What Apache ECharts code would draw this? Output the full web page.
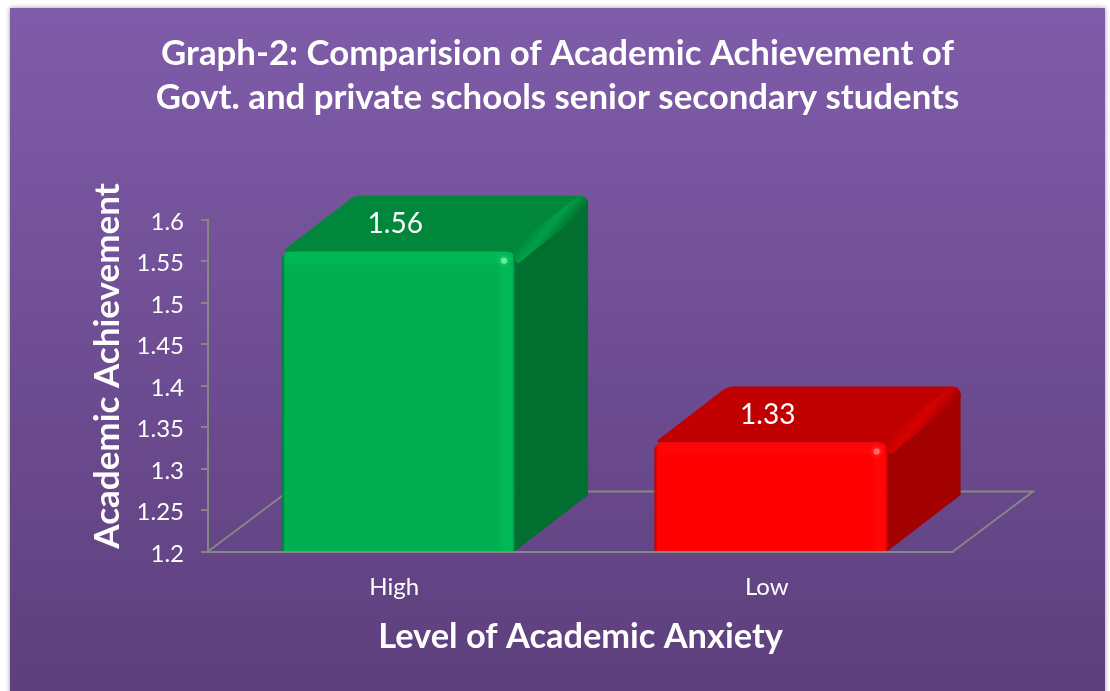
<!DOCTYPE html>
<html><head><meta charset="utf-8">
<style>html,body{margin:0;padding:0;background:#fff}#c{width:1110px;height:691px}</style>
<script src="https://cdn.jsdelivr.net/npm/echarts@6/dist/echarts.min.js"></script>
</head><body><div id="c"></div>
<script>
const categories = ['High', 'Low'];
const values = [1.56, 1.33];
const yTicks = { min: 1.2, max: 1.6, interval: 0.05 };
const titleText = 'Graph-2: Comparision of Academic Achievement of\nGovt. and private schools senior secondary students';
const xName = 'Level of Academic Anxiety';
const yName = 'Academic Achievement';
const palette = [
  { front:'#00b050', band:'#00b955', edge:'#00723a', top:'#00873c', side:'#006f2f', bevel:'#009f48', spot:'#5cf0a0' },
  { front:'#ff0000', band:'#ff0606', edge:'#b80000', top:'#c00000', side:'#a30000', bevel:'#d80000', spot:'#ff6a6a' }
];
const FONT = 'Lato, Carlito, "Open Sans", sans-serif';
const DX = 73, DY = -56, FLOOR_DX = 80, FLOOR_DY = -60, SHIFT = 4.25, WIDTH_RATIO = 0.626;

function rounded(pts, radii) {
  const out = [], n = pts.length;
  for (let i = 0; i < n; i++) {
    const p = pts[i], a = pts[(i + n - 1) % n], b = pts[(i + 1) % n], r = radii[i];
    if (!r) { out.push(p); continue; }
    const la = Math.hypot(a[0]-p[0], a[1]-p[1]), lb = Math.hypot(b[0]-p[0], b[1]-p[1]);
    const s = [p[0]+(a[0]-p[0])*r/la, p[1]+(a[1]-p[1])*r/la];
    const e = [p[0]+(b[0]-p[0])*r/lb, p[1]+(b[1]-p[1])*r/lb];
    for (let k = 0; k <= 6; k++) {
      const t = k/6, u = 1-t;
      out.push([u*u*s[0]+2*u*t*p[0]+t*t*e[0], u*u*s[1]+2*u*t*p[1]+t*t*e[1]]);
    }
  }
  return out;
}

function renderBox(params, api) {
  const idx = api.value(0), v = api.value(1);
  const top = api.coord([idx, v]), base = api.coord([idx, yTicks.min]);
  const w = api.size([1, 0])[0] * WIDTH_RATIO;
  const cx = top[0] + SHIFT, L = cx - w/2, R = cx + w/2, T = top[1] - 1, B = base[1] - 0.5;
  const c = palette[idx];
  const poly = (points, fill) => ({ type:'polygon', shape:{ points }, style:{ fill } });
  const hGrad = { type:'linear', x:0, y:0, x2:1, y2:0, colorStops:[
    {offset:0, color:c.edge},{offset:0.014, color:c.front},{offset:0.93, color:c.front},
    {offset:0.95, color:c.band},{offset:0.988, color:c.band},{offset:1, color:c.edge}] };
  const vGrad = { type:'linear', x:0, y:0, x2:0, y2:1, colorStops:[
    {offset:0, color:c.band},{offset:0.7, color:c.band},{offset:1, color:c.front}] };
  const dGrad = { type:'linear', x:0, y:0, x2:1, y2:1, colorStops:[
    {offset:0.38, color:c.top},{offset:0.5, color:c.bevel},{offset:0.64, color:c.side}] };
  return { type:'group', children:[
    poly(rounded([[L,T],[L+DX,T+DY],[R+DX,T+DY],[R,T]], [6,6,9,0]), c.top),
    poly(rounded([[R,T],[R+DX,T+DY],[R+DX,B+DY],[R,B]], [0,9,0,0]), c.side),
    poly(rounded([[R-9,T],[R+DX-9,T+DY],[R+DX,T+DY],[R+DX,T+DY+12],[R+3,T+12]], [0,0,9,0,0]), dGrad),
    { type:'rect', shape:{ x:L, y:T, width:w, height:B-T, r:[8,8,0,0] }, style:{ fill:hGrad } },
    { type:'rect', shape:{ x:L+3, y:T, width:w-6, height:14, r:[7,7,0,0] }, style:{ fill:vGrad } },
    { type:'rect', shape:{ x:R-14, y:T+6, width:6, height:6, r:3 }, style:{ fill:c.spot, shadowBlur:4, shadowColor:c.spot } },
    { type:'text', x:top[0]+1, y:T-28, style:{ text:String(v), fill:'#fff', font:'28px '+FONT, align:'center', verticalAlign:'middle' } }
  ]};
}

function renderFloor(params, api) {
  const cs = params.coordSys, x0 = cs.x, x1 = cs.x + cs.width, y = cs.y + cs.height;
  return { type:'polyline',
    shape:{ points:[[x0,y],[x0+FLOOR_DX,y+FLOOR_DY],[x1+FLOOR_DX,y+FLOOR_DY],[x1,y]] },
    style:{ stroke:'#868686', lineWidth:2, fill:'none' } };
}

const chart = echarts.init(document.getElementById('c'));
chart.setOption({
  backgroundColor:'#fff',
  animation:false,
  graphic:[{ type:'rect', z:-10, shape:{ x:10, y:8, width:1095, height:690 },
    style:{ fill:{ type:'linear', x:0, y:0, x2:0, y2:1, colorStops:[{offset:0,color:'#7f5ca9'},{offset:1,color:'#5d3f7c'}] },
      shadowBlur:5, shadowColor:'rgba(0,0,0,0.4)' } }],
  title:{ text:titleText, left:552.5, top:27, textAlign:'center',
    textStyle:{ color:'#fff', fontFamily:FONT, fontWeight:'bold', fontSize:34.8, lineHeight:44 } },
  grid:{ left:208, right:157, top:219.5, bottom:139.5 },
  xAxis:{ type:'category', data:categories, z:10,
    name:xName, nameLocation:'middle', nameGap:68,
    nameTextStyle:{ color:'#fff', fontFamily:FONT, fontWeight:'bold', fontSize:34.4 },
    axisLine:{ lineStyle:{ color:'#868686', width:2 } }, axisTick:{ show:false },
    axisLabel:{ color:'#fff', fontFamily:FONT, fontSize:24, margin:24 } },
  yAxis:{ type:'value', min:yTicks.min, max:yTicks.max, interval:yTicks.interval, z:10,
    name:yName, nameLocation:'middle', nameGap:83, nameRotate:90,
    nameTextStyle:{ color:'#fff', fontFamily:FONT, fontWeight:'bold', fontSize:35, padding:[0,0,0,39] },
    axisLine:{ show:true, lineStyle:{ color:'#868686', width:2 } },
    axisTick:{ show:true, length:7, lineStyle:{ color:'#868686', width:2 } },
    splitLine:{ show:false },
    axisLabel:{ color:'#fff', fontFamily:FONT, fontSize:24, margin:24, verticalAlign:'top', lineHeight:5, formatter:v => String(+v.toFixed(2)) } },
  series:[
    { type:'custom', z:1, silent:true, renderItem:renderFloor, data:[[0, yTicks.min]], encode:{ x:0, y:1 } },
    { type:'custom', z:2, silent:true, renderItem:renderBox, data:values.map((v,i)=>[i,v]), encode:{ x:0, y:1 } }
  ]
});
</script></body></html>
